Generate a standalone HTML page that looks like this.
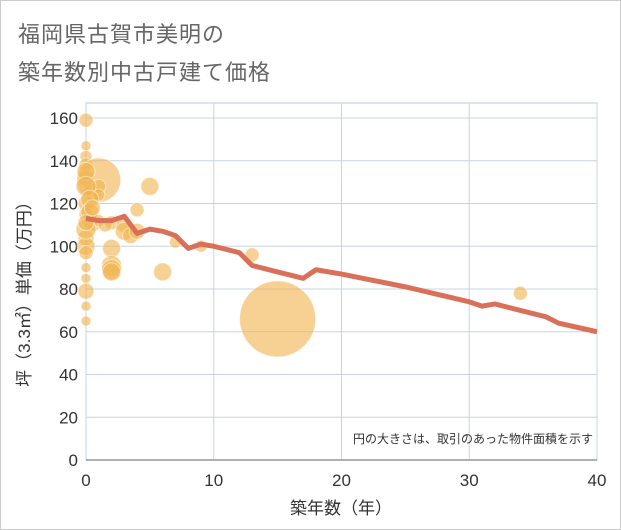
<!DOCTYPE html>
<html><head><meta charset="utf-8">
<style>
body{margin:0;background:#fff;font-family:"Liberation Sans","Noto Sans CJK JP",sans-serif;}
#wrap{position:relative;width:619px;height:528px;border:1px solid #ccc;background:#fff;overflow:hidden;}
.title{position:absolute;left:17px;font-size:22px;color:#666;letter-spacing:1px;}
</style></head><body>
<div id="wrap">
<div class="title" style="top:16px">福岡県古賀市美明の</div>
<div class="title" style="top:54px">築年数別中古戸建て価格</div>
<svg id="chart" width="621" height="530" style="position:absolute;left:-1px;top:-1px"></svg>
</div>
<script>
const xTicks=[0,10,20,30,40];
const yTicks=[0,20,40,60,80,100,120,140,160];
const bubbleYears=[0,0,0,0,0,0.5,1,1,1,0,0,0.5,1,0,0,0,0,0,0,0,0,2,2,2,2,2,3,3,3.5,4,4,5,6,7,9,13,15,34,0,0,0.3,0.3,0,0.5,0,1.5];
const bubbleValues=[159,147,142,138,132,125,131,128,124,120,115,111,112,104,100,97,90,85,79,72,65,111,99,91,89,88,110,107,105,117,107,128,88,102,100,96,66,78,135,128,122,116,108,118,111,110];
const bubbleSizes=[7,5,6,7,8,9,22,7,6,8,7,9,6,8,9,7,5,5,8,5,5,7,9,10,10,9,8,9,8,7,8,9,9,6,6,7,38,7,9,10,9,9,10,8,8,7];
const lineYears=[0,1,2,3,4,5,6,7,8,9,10,12,13,15,17,18,20,25,30,31,32,36,37,40];
const lineValues=[113,112,112,114,106,108,107,105,99,101,100,97,91,88,85,89,87,81,74,72,73,67,64,60];
const X0=86,X1=597,Y0=460,Y1=118,T=103;
const xs=v=>X0+(v-0)/(40-0)*(X1-X0);
const ys=v=>Y0-(v/160)*(Y0-Y1);
const svg=document.getElementById('chart');
const NS='http://www.w3.org/2000/svg';
function mk(t,a){const e=document.createElementNS(NS,t);for(const k in a)e.setAttribute(k,a[k]);svg.appendChild(e);return e;}
let e=mk('rect',{x:X0,y:T,width:X1-X0,height:Y0-T,fill:'#fff',stroke:'#b8c8d8'});


yTicks.forEach(v=>{
 let l=mk('line',{x1:X0,x2:X1,y1:ys(v),y2:ys(v),stroke:'#c5d5e5','stroke-width':1});
 
 
 let t=mk('text',{x:X0-8,y:ys(v)+6,'text-anchor':'end','font-size':17,fill:'#333'});
 t.textContent=v;
 
 
});
xTicks.forEach(v=>{
 let l=mk('line',{x1:xs(v),x2:xs(v),y1:T,y2:Y0,stroke:'#c5d5e5','stroke-width':1});
 
 
 let t=mk('text',{x:xs(v),y:Y0+26,'text-anchor':'middle','font-size':17,fill:'#333'});
 t.textContent=v;
 
 
});
e=mk('line',{x1:X0,x2:X1,y1:Y0,y2:Y0,stroke:'#8899aa','stroke-width':1.5});


bubbleYears.forEach((yr,i)=>{
 let c=mk('circle',{cx:xs(yr),cy:ys(bubbleValues[i]),r:bubbleSizes[i],fill:'rgba(240,180,80,0.62)',stroke:'rgba(255,255,255,0.5)','stroke-width':1});
 
 
});
let p=mk('polyline',{points:lineYears.map((yr,i)=>xs(yr)+','+ys(lineValues[i])).join(' '),fill:'none',stroke:'#d9705a','stroke-width':5,'stroke-linejoin':'round'});


e=mk('text',{x:593,y:443,'text-anchor':'end','font-size':12,fill:'#333'});
e.textContent='円の大きさは、取引のあった物件面積を示す';


e=mk('text',{x:341,y:514,'text-anchor':'middle','font-size':17,fill:'#333'});
e.textContent='築年数（年）';


e=mk('text',{x:30,y:290,'text-anchor':'middle','font-size':17,fill:'#333',transform:'rotate(-90 30 290)'});
e.textContent='坪（3.3㎡）単価（万円）';


</script>
</body></html>
